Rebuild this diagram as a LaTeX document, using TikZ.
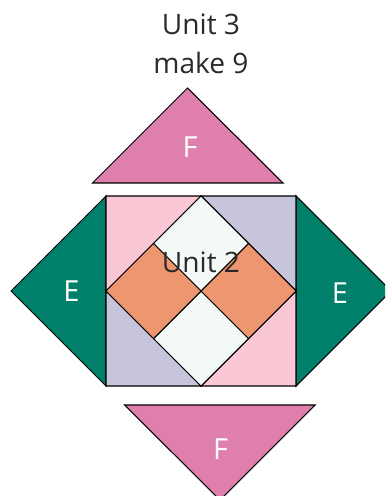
\documentclass[tikz,border=0pt]{standalone}
\usepackage{fontspec}
\setmainfont{Open Sans}
\definecolor{quiltpink}{HTML}{FAC8D5}
\definecolor{quiltlav}{HTML}{C7C5DC}
\definecolor{quiltmint}{HTML}{F3F9F7}
\definecolor{quiltorange}{HTML}{EE9670}
\definecolor{quiltgreen}{HTML}{00806A}
\definecolor{quiltmagenta}{HTML}{DE7FAD}
\definecolor{quilttext}{HTML}{2B2A2B}
\tikzset{
	patch/.style={draw=black, line width=0.6pt, line join=miter},
	unitlabel/.style={text=quilttext, font=\fontsize{16}{19}\selectfont, inner sep=0pt},
	patchlabel/.style={text=white, font=\fontsize{16.5}{19}\selectfont, inner sep=0pt}
}

\begin{document}
\begin{tikzpicture}[x=0.02cm, y=-0.02cm]
			\useasboundingbox (0, 0) rectangle (385, 496);
			\clip (0, 0) rectangle (385, 496);
			
			% outer triangles
			\draw[patch, fill=quiltmagenta] (92.5, 183) -- (187.5, 88) -- (283, 183) -- cycle;
			\draw[patch, fill=quiltmagenta] (124.5, 405) -- (315, 405) -- (220, 500) -- cycle;
			\draw[patch, fill=quiltgreen] (106, 196) -- (11, 291) -- (106, 386) -- cycle;
			\draw[patch, fill=quiltgreen] (296, 196) -- (391, 291) -- (296, 386) -- cycle;
			
			% corners of the square
			\draw[patch, fill=quiltpink] (106, 196) -- (201, 196) -- (106, 291) -- cycle;
			\draw[patch, fill=quiltlav] (201, 196) -- (296, 196) -- (296, 291) -- cycle;
			\draw[patch, fill=quiltlav] (106, 291) -- (201, 386) -- (106, 386) -- cycle;
			\draw[patch, fill=quiltpink] (296, 291) -- (296, 386) -- (201, 386) -- cycle;
			
			% centre diamonds
			\draw[patch, fill=quiltmint] (201, 196) -- (248.5, 243.5) -- (201, 291) -- (153.5, 243.5) -- cycle;
			\draw[patch, fill=quiltmint] (201, 291) -- (248.5, 338.5) -- (201, 386) -- (153.5, 338.5) -- cycle;
			\draw[patch, fill=quiltorange] (106, 291) -- (153.5, 243.5) -- (201, 291) -- (153.5, 338.5) -- cycle;
			\draw[patch, fill=quiltorange] (201, 291) -- (248.5, 243.5) -- (296, 291) -- (248.5, 338.5) -- cycle;
			
			\node[unitlabel] (unit3) at (201, 24) {Unit 3};
			\node[unitlabel] (make9) at (201, 63) {make 9};
			\node[unitlabel] (unit2) at (201, 262) {Unit 2};
			
			\node[patchlabel] (ftop) at (190, 147) {F};
			\node[patchlabel] (fbot) at (220.5, 449) {F};
			\node[patchlabel] (eleft) at (71.5, 291.5) {E};
			\node[patchlabel] (eright) at (340, 293) {E};
\end{tikzpicture}
\end{document}
